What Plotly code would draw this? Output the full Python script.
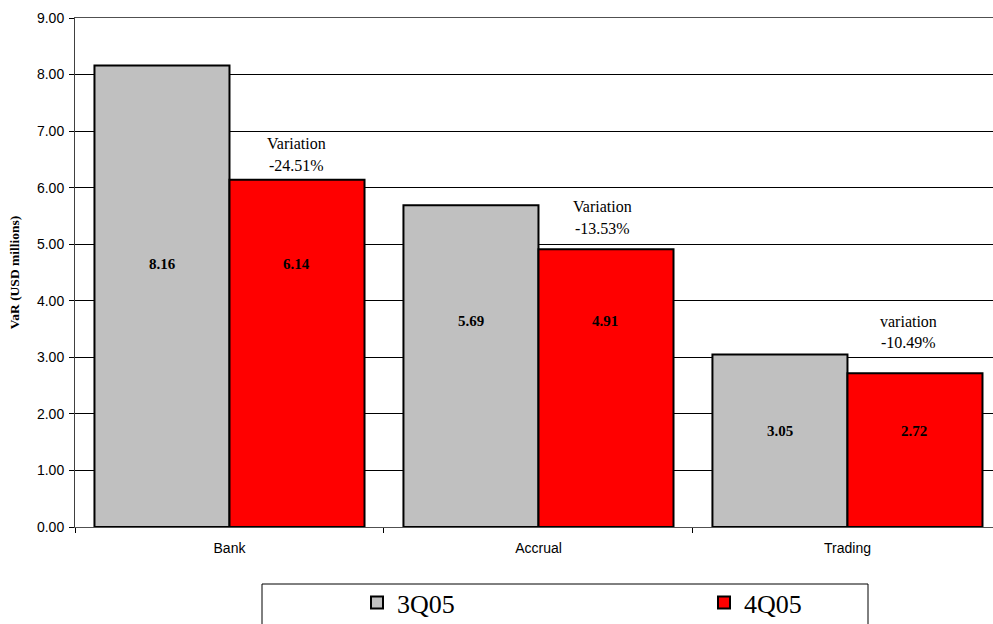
import plotly.graph_objects as go

categories = ["Bank", "Accrual", "Trading"]
series_names = ["3Q05", "4Q05"]
values_3q05 = [8.16, 5.69, 3.05]
values_4q05 = [6.14, 4.91, 2.72]
variation_words = ["Variation", "Variation", "variation"]
variation_pcts = ["-24.51%", "-13.53%", "-10.49%"]
y_ticks = [0, 1, 2, 3, 4, 5, 6, 7, 8, 9]

# layout helpers (positions, not data)
label_y = [4.65, 3.65, 1.70]
var_word_y = [6.78, 5.66, 3.63]
var_pct_y = [6.39, 5.27, 3.26]
var_xshift = [67, 64, 61]

W, H = 993, 624
L, R, T, B = 75, 0, 18, 97
pw = W - L - R
ph = H - T - B

fig = go.Figure()
fig.add_trace(go.Bar(name=series_names[0], x=categories, y=values_3q05,
                     marker=dict(color="#C0C0C0", line=dict(color="black", width=2))))
fig.add_trace(go.Bar(name=series_names[1], x=categories, y=values_4q05,
                     marker=dict(color="#FF0000", line=dict(color="black", width=2))))

times = "Liberation Serif, Times New Roman, serif"
arial = "Liberation Sans, Arial, sans-serif"

ann = []
for i, c in enumerate(categories):
    for vals, shift in ((values_3q05, -67), (values_4q05, 67)):
        ann.append(dict(x=c, y=label_y[i], xref="x", yref="y", xshift=shift,
                        text="<b>%.2f</b>" % vals[i], showarrow=False,
                        font=dict(family=times, size=15, color="black")))
    ann.append(dict(x=c, y=var_word_y[i], xref="x", yref="y", xshift=var_xshift[i],
                    text=variation_words[i], showarrow=False,
                    font=dict(family=times, size=16, color="black")))
    ann.append(dict(x=c, y=var_pct_y[i], xref="x", yref="y", xshift=var_xshift[i],
                    text=variation_pcts[i], showarrow=False,
                    font=dict(family=times, size=16, color="black")))

def px_x(p):
    return (p - L) / pw

def px_y(p):
    return (H - B - p) / ph

fig.update_layout(
    width=W, height=H, autosize=False,
    margin=dict(l=L, r=R, t=T, b=B, pad=0, autoexpand=False),
    paper_bgcolor="white", plot_bgcolor="white",
    barmode="group", bargap=0.126, bargroupgap=0,
    annotations=ann,
    showlegend=True,
    legend=dict(orientation="h", x=px_x(357), xanchor="left",
                y=px_y(579), yanchor="top",
                font=dict(family=times, size=26, color="black"),
                entrywidth=302, entrywidthmode="pixels",
                bgcolor="rgba(0,0,0,0)", borderwidth=0,
                traceorder="normal"),
    shapes=[dict(type="rect", xref="paper", yref="paper",
                 x0=px_x(262), x1=px_x(868), y0=px_y(640), y1=px_y(584),
                 line=dict(color="black", width=1), fillcolor="rgba(0,0,0,0)")],
    xaxis=dict(type="category", range=[-0.5, 2.471], tickson="boundaries",
               ticks="outside", ticklen=5, tickcolor="black",
               showline=True, linecolor="#505050", linewidth=1, mirror=True,
               showgrid=False, zeroline=False, automargin=False,
               ticklabelstandoff=8,
               tickfont=dict(family=arial, size=14, color="black")),
    yaxis=dict(range=[0, 9], tickvals=y_ticks, tickformat=".2f",
               ticks="outside", ticklen=5, tickcolor="black",
               showline=True, linecolor="#404040", linewidth=1,
               showgrid=True, gridcolor="black", gridwidth=1, zeroline=False,
               automargin=False, ticklabelstandoff=2,
               tickfont=dict(family=arial, size=14, color="black"),
               title=dict(text="<b>VaR (USD millions)</b>", standoff=14,
                          font=dict(family=times, size=13.5, color="black"))),
)

fig.write_html("out.html")
